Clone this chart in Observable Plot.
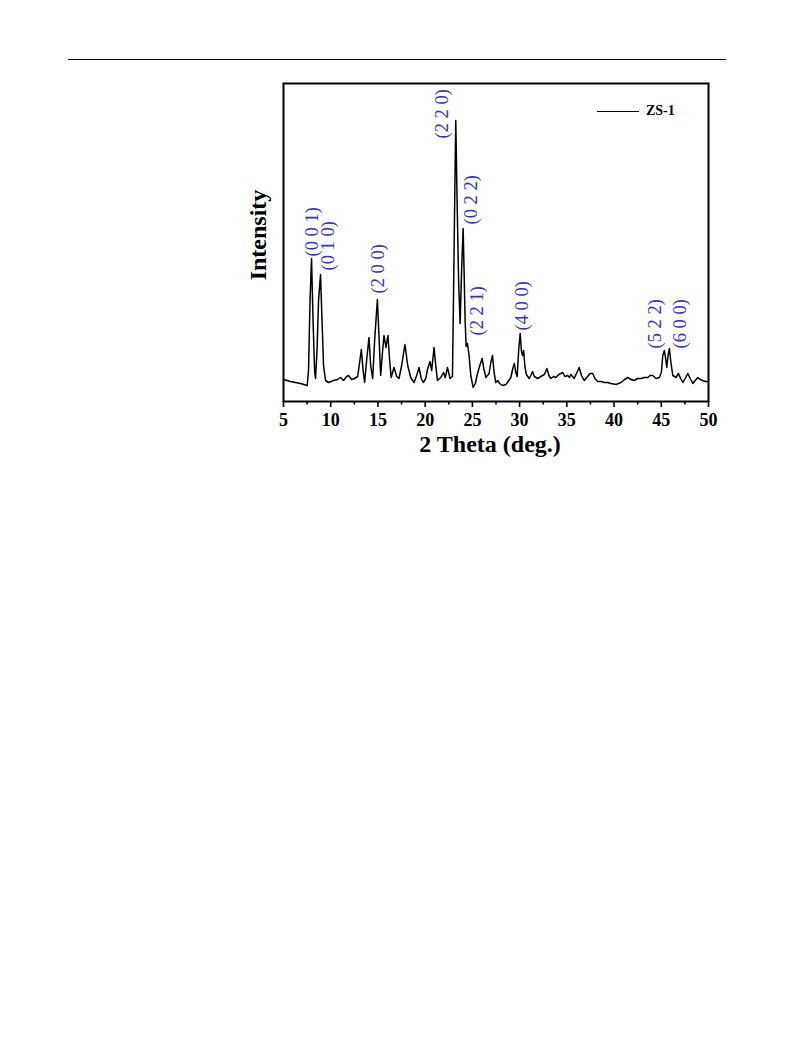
<!DOCTYPE html>
<html>
<head>
<meta charset="utf-8">
<script src="https://cdn.jsdelivr.net/npm/d3@7"></script>
<script src="https://cdn.jsdelivr.net/npm/@observablehq/plot@0.6"></script>
<style>
  html, body { margin: 0; padding: 0; background: white; }
  #page { position: relative; width: 793px; height: 1053px; background: white; overflow: hidden; }
  #rule { position: absolute; left: 68px; top: 59px; width: 658px; height: 1px; background: black; }
  #chart { position: absolute; left: 0; top: 70px; }
  .title { position: absolute; font-family: "Liberation Serif", "Times New Roman", serif; font-weight: bold; color: black; white-space: nowrap; }
  #xtitle { left: 490px; top: 431px; font-size: 24px; transform: translateX(-50%); }
  #ytitle { left: 258px; top: 235px; font-size: 24px; transform: translate(-50%, -50%) rotate(-90deg); }
  #legend { position: absolute; left: 597px; top: 103px; font-family: "Liberation Serif", "Times New Roman", serif; font-weight: bold; font-size: 14px; display: flex; align-items: center; }
  #legend .sw { width: 42px; height: 0; border-top: 1.6px solid black; margin-right: 7px; }
</style>
</head>
<body>
<div id="page">
  <div id="rule"></div>
  <div id="chart"></div>
  <div class="title" id="xtitle">2 Theta (deg.)</div>
  <div class="title" id="ytitle">Intensity</div>
  <div id="legend"><div class="sw"></div><span>ZS-1</span></div>
</div>
<script>
// ---- Data ----
const twoTheta = [
  5.00, 5.74, 6.80, 7.51, 7.65, 7.81, 7.97, 8.13, 8.29, 8.39, 8.55, 8.71, 8.92, 9.08, 9.24, 9.45,
  9.77, 10.30, 10.73, 11.04, 11.36, 11.68, 11.89, 12.21, 12.53, 12.85, 13.06, 13.24, 13.43, 13.59,
  13.80, 14.05, 14.23, 14.44, 14.65, 14.94, 15.13, 15.29, 15.45, 15.64, 15.85, 16.06, 16.24, 16.40,
  16.70, 16.99, 17.23, 17.51, 17.86, 18.15, 18.47, 18.82, 19.10, 19.35, 19.58, 19.81, 20.06, 20.27,
  20.51, 20.69, 20.94, 21.12, 21.30, 21.65, 21.94, 22.13, 22.36, 22.64, 22.89, 23.00, 23.10, 23.24,
  23.38, 23.54, 23.70, 23.86, 24.02, 24.12, 24.23, 24.34, 24.48, 24.65, 24.83, 25.08, 25.31, 25.54,
  25.79, 26.03, 26.21, 26.42, 26.77, 26.95, 27.13, 27.30, 27.48, 27.69, 27.88, 28.19, 28.54, 28.86,
  29.07, 29.28, 29.44, 29.60, 29.74, 29.90, 30.06, 30.19, 30.31, 30.43, 30.56, 30.72, 31.01, 31.19,
  31.37, 31.56, 31.90, 32.25, 32.62, 32.89, 33.10, 33.31, 33.58, 33.84, 34.16, 34.56, 34.80, 35.09,
  35.28, 35.43, 35.78, 36.07, 36.31, 36.55, 36.84, 37.20, 37.45, 37.74, 37.98, 38.26, 38.62, 38.97,
  39.31, 39.68, 40.21, 40.74, 41.11, 41.45, 41.80, 42.15, 42.49, 42.86, 43.21, 43.57, 43.82, 44.10,
  44.45, 44.80, 45.01, 45.16, 45.33, 45.46, 45.58, 45.72, 45.86, 46.02, 46.22, 46.57, 46.82, 47.05,
  47.29, 47.53, 47.81, 48.06, 48.35, 48.59, 48.88, 49.12, 49.40, 49.65, 49.97
];
const intensity = [
  22, 20, 18, 16, 31, 101, 143, 81, 31, 23, 51, 101, 127, 81, 36, 21,
  19, 21, 22, 24, 21, 25, 26, 22, 23, 25, 39, 52, 31, 19,
  41, 64, 36, 23, 61, 102, 61, 26, 46, 66, 54, 66, 41, 24,
  34, 25, 23, 36, 57, 36, 24, 19, 26, 34, 23, 19, 23, 33,
  40, 31, 54, 36, 21, 24, 29, 24, 34, 23, 25, 104, 181, 281,
  201, 121, 78, 131, 173, 131, 81, 55, 58, 46, 26, 14, 18, 28,
  36, 43, 33, 24, 28, 39, 46, 29, 19, 21, 18, 16, 17, 21,
  24, 33, 38, 29, 25, 51, 68, 51, 46, 51, 35, 27, 23, 26,
  30, 25, 23, 25, 27, 33, 26, 23, 25, 24, 27, 29, 25, 26,
  24, 27, 23, 29, 34, 26, 21, 25, 28, 28, 23, 20, 20, 19,
  19, 18, 17, 19, 22, 24, 22, 21, 23, 23, 24, 24, 26, 26,
  23, 24, 29, 46, 51, 43, 34, 46, 53, 39, 26, 24, 28, 23,
  19, 23, 28, 23, 18, 21, 24, 22, 21, 20, 20
];
const majorTicks = [5, 10, 15, 20, 25, 30, 35, 40, 45, 50];
const minorTicks = [7.5, 12.5, 17.5, 22.5, 27.5, 32.5, 37.5, 42.5, 47.5];
const hklLabels = ["(0 0 1)", "(0 1 0)", "(2 0 0)", "(2 2 0)", "(0 2 2)", "(2 2 1)", "(4 0 0)", "(5 2 2)", "(6 0 0)"];
const hklX = [8.04, 9.67, 15.0, 21.83, 24.83, 25.54, 30.21, 44.34, 46.99];
const hklY = [145, 131, 108, 263, 177, 66, 71, 53, 53];

const pattern = twoTheta.map((t, i) => ({t, I: intensity[i]}));
const hkl = hklLabels.map((s, i) => ({s, x: hklX[i], y: hklY[i]}));

const serif = "'Liberation Serif', 'Times New Roman', serif";
const chart = Plot.plot({
  width: 793,
  height: 400,
  marginLeft: 283,
  marginRight: 85,
  marginTop: 13,
  marginBottom: 69,
  x: {domain: [5, 50]},
  y: {domain: [0, 318], axis: null},
  style: {fontFamily: serif, background: "white", color: "black", overflow: "visible"},
  marks: [
    Plot.axisX({ticks: majorTicks, tickSize: 6, tickPadding: 6, tickFormat: d => String(d), label: null,
      fontSize: 18, fontWeight: "bold", strokeWidth: 1.6}),
    Plot.axisX({ticks: minorTicks, tickSize: 3.5, tickFormat: () => "", label: null, strokeWidth: 1.6}),
    Plot.line(pattern, {x: "t", y: "I", stroke: "black", strokeWidth: 1.5, curve: "linear"}),
    Plot.text(hkl, {x: "x", y: "y", text: "s", rotate: -90, textAnchor: "start", lineAnchor: "middle",
      fill: "#3333cc", fontSize: 18.5, fontFamily: serif}),
    Plot.frame({stroke: "black", strokeWidth: 2})
  ]
});
document.getElementById("chart").appendChild(chart);
</script>
</body>
</html>
